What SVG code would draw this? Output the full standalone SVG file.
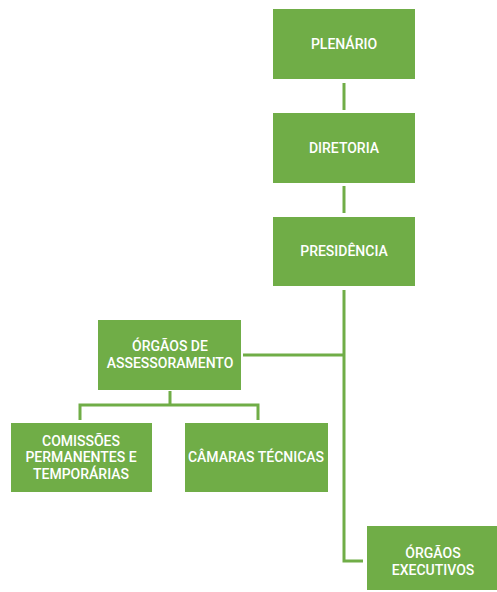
<svg xmlns="http://www.w3.org/2000/svg" width="497" height="592" viewBox="0 0 497 592">
<style>
.box{fill:#70AD47}
.t{fill:#fff;font-family:Roboto,"Liberation Sans",sans-serif;font-size:14px;font-weight:500;text-anchor:middle;dominant-baseline:central}
.c{fill:none;stroke:#70AD47;stroke-width:3}
</style>
<rect width="497" height="592" fill="#fff"/>
<g id="connectors">
<line class="c" x1="344" y1="83" x2="344" y2="110"/>
<line class="c" x1="344" y1="186" x2="344" y2="213"/>
<polyline class="c" points="344,290 344,561 363,561"/>
<line class="c" x1="243" y1="355" x2="344" y2="355"/>
<polyline class="c" points="170,391 170,405"/>
<polyline class="c" points="80,420 80,405 258,405 258,420"/>
</g>
<g id="plenario"><rect class="box" x="273" y="9" width="142" height="70"/><text class="t" x="344" y="44">PLENÁRIO</text></g>
<g id="diretoria"><rect class="box" x="273" y="113" width="142" height="70"/><text class="t" x="344" y="148">DIRETORIA</text></g>
<g id="presidencia"><rect class="box" x="273" y="217" width="142" height="69"/><text class="t" x="344" y="251">PRESIDÊNCIA</text></g>
<g id="assessoramento"><rect class="box" x="98" y="320" width="143" height="70"/><text class="t" x="170" y="346">ÓRGÃOS DE</text><text class="t" x="170" y="363">ASSESSORAMENTO</text></g>
<g id="comissoes"><rect class="box" x="11" y="423" width="141" height="69"/><text class="t" x="81" y="441">COMISSÕES</text><text class="t" x="81" y="457">PERMANENTES E</text><text class="t" x="81" y="474">TEMPORÁRIAS</text></g>
<g id="camaras"><rect class="box" x="185" y="423" width="143" height="69"/><text class="t" x="256" y="457">CÂMARAS TÉCNICAS</text></g>
<g id="executivos"><rect class="box" x="367" y="526" width="130" height="64"/><text class="t" x="433" y="553">ÓRGÃOS</text><text class="t" x="433" y="570">EXECUTIVOS</text></g>
</svg>
